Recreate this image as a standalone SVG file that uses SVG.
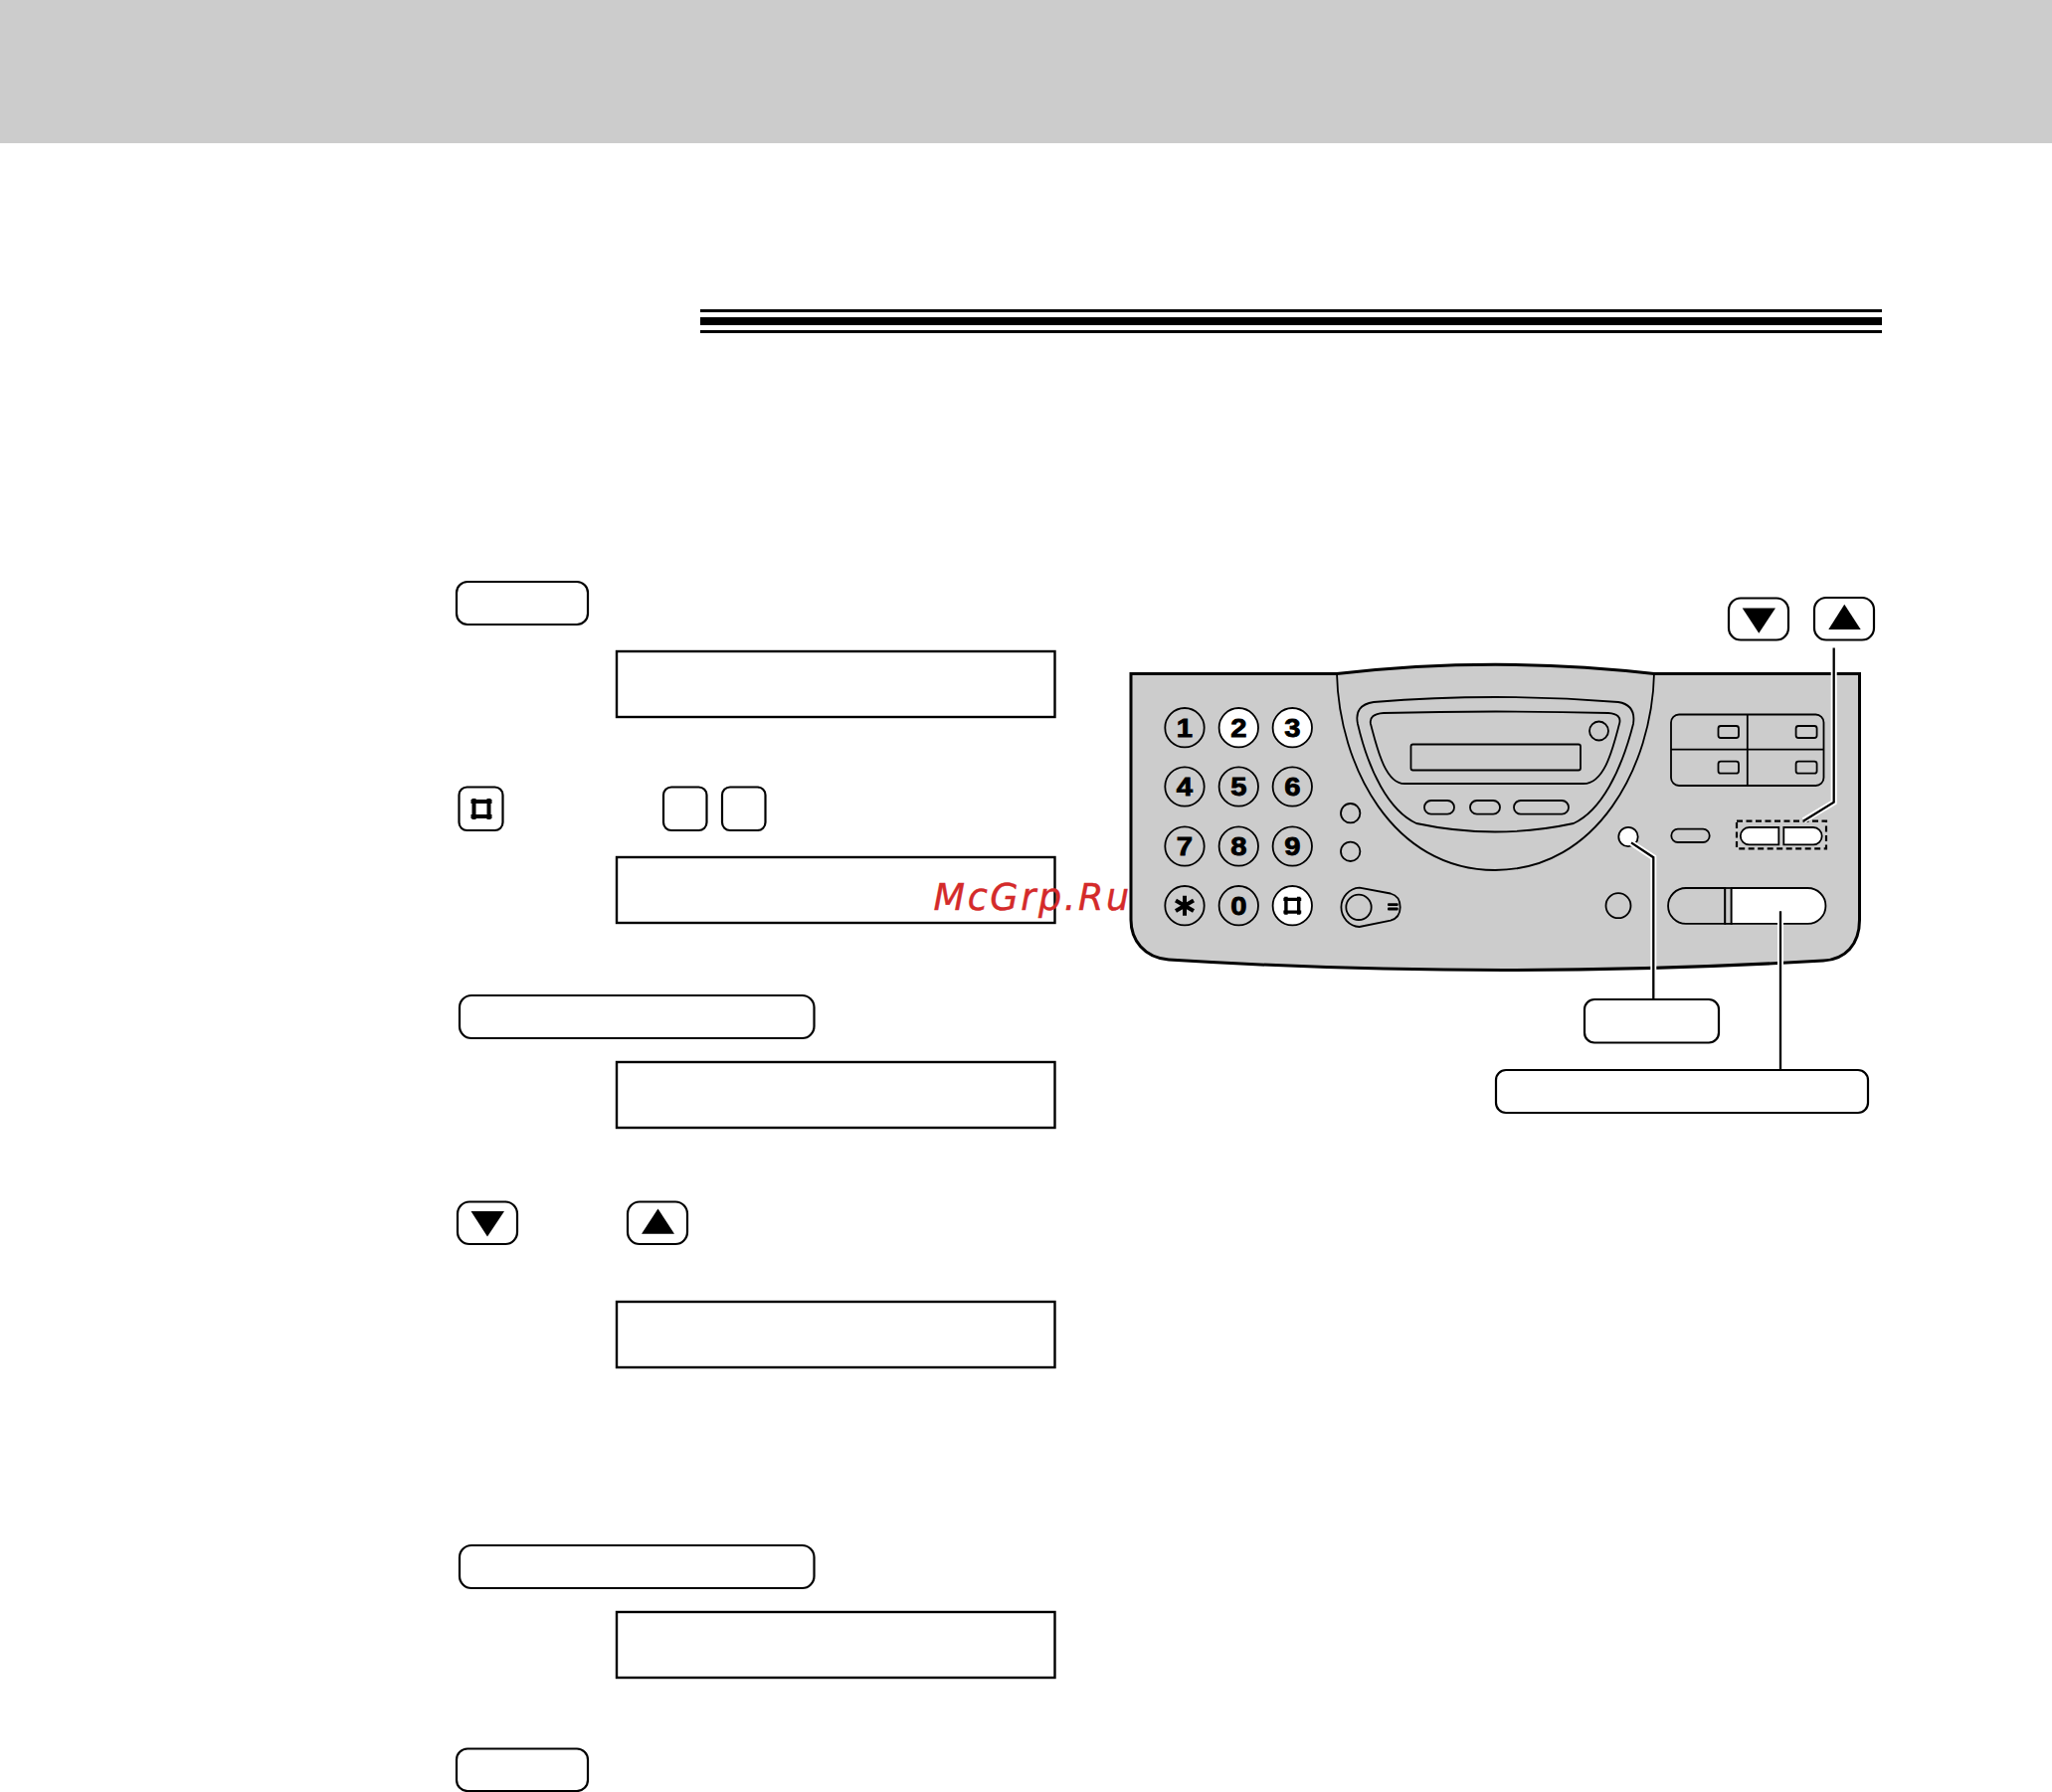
<svg xmlns="http://www.w3.org/2000/svg" width="2063" height="1802" viewBox="0 0 2063 1802">
<defs>
<style>
.key{fill:#fff;stroke:#000;stroke-width:2.2}
.lcd{fill:#fff;stroke:#000;stroke-width:2.4}
.p{fill:#ccc;stroke:#000;stroke-width:1.8}
.w{fill:#fff;stroke:#000;stroke-width:1.8}
.d{font-family:"Liberation Sans",Arial,sans-serif;font-weight:700;font-size:25px;text-anchor:middle;fill:#000;stroke:#000;stroke-width:.8}
.halo{fill:none;stroke:#fff;stroke-width:6}
.ln{fill:none;stroke:#000;stroke-width:2.3}
</style>
<g id="hash"><path d="M-7.5-10.5V10.5M7.5-10.5V10.5M-10.5-7.5H10.5M-10.5 7.5H10.5" fill="none" stroke="#000" stroke-width="4"/></g>
</defs>
<rect id="header" x="0" y="0" width="2063" height="144" fill="#ccc"/>
<g id="rule" fill="#000"><rect x="704" y="311" width="1188" height="3"/><rect x="704" y="319" width="1188" height="8"/><rect x="704" y="332" width="1188" height="3"/></g>
<g id="steps">
<rect id="k1" class="key" x="459" y="585" width="132" height="43" rx="11"/>
<rect id="lcd1" class="lcd" x="620" y="655" width="440.5" height="66"/>
<g id="k2"><rect class="key" x="461.5" y="791.5" width="44" height="43.5" rx="8"/><use href="#hash" transform="translate(484 813.5)"/></g>
<rect id="k3" class="key" x="667" y="791.5" width="43.5" height="43.5" rx="8"/>
<rect id="k4" class="key" x="726" y="791.5" width="43.5" height="43.5" rx="8"/>
<rect id="lcd2" class="lcd" x="620" y="862" width="440.5" height="66"/>
<rect id="k5" class="key" x="462" y="1001" width="356.5" height="43" rx="12"/>
<rect id="lcd3" class="lcd" x="620" y="1068" width="440.5" height="66"/>
<g id="k6"><rect class="key" x="460" y="1208.5" width="60" height="42.5" rx="12"/><polygon points="473.5,1218 507,1218 490,1243.5"/></g>
<g id="k7"><rect class="key" x="631" y="1208.5" width="60" height="42.5" rx="12"/><polygon points="661.5,1215.5 645,1240.7 678,1240.7"/></g>
<rect id="lcd4" class="lcd" x="620" y="1309" width="440.5" height="66"/>
<rect id="k8" class="key" x="462" y="1554" width="356.5" height="43" rx="12"/>
<rect id="lcd5" class="lcd" x="620" y="1621" width="440.5" height="66"/>
<rect id="k9" class="key" x="459" y="1758.5" width="132" height="42.5" rx="11"/>
</g>
<g id="panel">
<path id="body" d="M1137 677.5H1344Q1503 659 1663 677.5H1869.5V925C1869.5 950 1855 965 1833 966Q1503 985.5 1175 965C1150 963 1137 945 1137 925Z" fill="#ccc" stroke="#000" stroke-width="3"/>
<path id="arch" d="M1344 677C1346 770 1400 875 1503 875C1606 875 1661 770 1663 677" fill="none" stroke="#000" stroke-width="1.8"/>
<g id="display">
<path class="p" d="M1381 706Q1503 696 1627 706Q1645 709 1642 728C1630 775 1610 815 1582 828Q1503 845 1424 828C1396 815 1376 775 1365 728Q1361 709 1381 706Z"/>
<path class="p" d="M1391 717Q1503 714 1617 717Q1631 718 1628 728C1622 750 1614 788 1592 788H1412C1392 788 1384 750 1378 728Q1376 718 1391 717Z"/>
<circle class="p" cx="1607.5" cy="735" r="9.5"/>
<rect class="p" x="1418.5" y="748.5" width="170.5" height="26" rx="2"/>
<rect class="p" x="1432" y="805" width="30" height="13.7" rx="6.8"/>
<rect class="p" x="1478" y="805" width="30" height="13.7" rx="6.8"/>
<rect class="p" x="1522" y="805" width="55" height="13.7" rx="6.8"/>
</g>
<g id="keypad">
<g id="d1"><circle class="p" cx="1191" cy="731.7" r="19.7"/><text class="d" transform="translate(1191 740.6) scale(1.17 1)">1</text></g>
<g id="d2"><circle class="w" cx="1245.3" cy="731.7" r="19.7"/><text class="d" transform="translate(1245.3 740.6) scale(1.17 1)">2</text></g>
<g id="d3"><circle class="w" cx="1299.3" cy="731.7" r="19.7"/><text class="d" transform="translate(1299.3 740.6) scale(1.17 1)">3</text></g>
<g id="d4"><circle class="p" cx="1191" cy="791" r="19.7"/><text class="d" transform="translate(1191 799.9) scale(1.17 1)">4</text></g>
<g id="d5"><circle class="p" cx="1245.3" cy="791" r="19.7"/><text class="d" transform="translate(1245.3 799.9) scale(1.17 1)">5</text></g>
<g id="d6"><circle class="p" cx="1299.3" cy="791" r="19.7"/><text class="d" transform="translate(1299.3 799.9) scale(1.17 1)">6</text></g>
<g id="d7"><circle class="p" cx="1191" cy="851" r="19.7"/><text class="d" transform="translate(1191 859.9) scale(1.17 1)">7</text></g>
<g id="d8"><circle class="p" cx="1245.3" cy="851" r="19.7"/><text class="d" transform="translate(1245.3 859.9) scale(1.17 1)">8</text></g>
<g id="d9"><circle class="p" cx="1299.3" cy="851" r="19.7"/><text class="d" transform="translate(1299.3 859.9) scale(1.17 1)">9</text></g>
<g id="dstar"><circle class="p" cx="1191" cy="910.7" r="19.7"/><path d="M1191 900.7V920.7M1182 905.5L1200 915.9M1182 915.9L1200 905.5" fill="none" stroke="#000" stroke-width="4"/></g>
<g id="d0"><circle class="p" cx="1245.3" cy="910.7" r="19.7"/><text class="d" transform="translate(1245.3 919.6) scale(1.17 1)">0</text></g>
<g id="dhash"><circle class="w" cx="1299.3" cy="910.7" r="19.7"/><use href="#hash" transform="translate(1299.3 910.7) scale(.85)"/></g>
</g>
<circle id="led1" class="p" cx="1357.7" cy="817.7" r="9.7"/>
<circle id="led2" class="p" cx="1357.7" cy="856.3" r="9.7"/>
<g id="volume"><path class="p" d="M1366.7 892.7L1398 898.5Q1407.7 901 1407.7 912.3Q1407.7 923 1398 925.7L1366.7 932A19.7 19.7 0 0 1 1366.7 892.7Z"/><circle class="p" cx="1366" cy="912.3" r="12.7"/><rect x="1395" y="908.3" width="10.7" height="2.8" rx="1"/><rect x="1395" y="912.6" width="10.7" height="2.8" rx="1"/></g>
<g id="stations" fill="#ccc" stroke="#000" stroke-width="1.8">
<rect x="1680" y="718.5" width="153.5" height="71.5" rx="8"/><path d="M1756.8 718.5V790M1680 753.7H1833.5" fill="none"/>
<rect x="1727.5" y="730" width="20.5" height="12" rx="2.5"/><rect x="1805.6" y="730" width="21" height="12" rx="2.5"/>
<rect x="1727.5" y="765.7" width="20.5" height="12" rx="2.5"/><rect x="1805.6" y="765.7" width="21" height="12" rx="2.5"/>
</g>
<circle id="stopbtn" class="w" cx="1637" cy="841.5" r="9.7"/>
<rect id="pill" class="p" x="1680.3" y="833.7" width="38.4" height="13.3" rx="6.6"/>
<g id="arrows"><rect x="1746" y="825.6" width="90" height="27.7" fill="none" stroke="#000" stroke-width="2.2" stroke-dasharray="6 3.5"/>
<path class="w" d="M1788.3 832H1758.5a8.7 8.7 0 0 0 0 17.4H1788.3Z"/><path class="w" d="M1793.3 832H1823a8.7 8.7 0 0 1 0 17.4H1793.3Z"/></g>
<circle id="setbtn" class="p" cx="1627" cy="910.7" r="12.5"/>
<g id="start"><path class="p" d="M1734.3 893H1695a17.9 17.9 0 0 0 0 35.9H1734.3Z"/><rect x="1734.3" y="893" width="6.4" height="35.9" class="p"/><path class="w" d="M1740.7 893H1817.5a17.9 17.9 0 0 1 0 35.9H1740.7Z"/></g>
</g>
<g id="tops">
<g id="top-down"><rect class="key" x="1738" y="601.5" width="60" height="42" rx="12"/><polygon points="1751.7,611.5 1785,611.5 1768.3,636.7"/></g>
<g id="top-up"><rect class="key" x="1824" y="601" width="60" height="42.5" rx="12"/><polygon points="1854.3,607.8 1838.3,633 1870.7,633"/></g>
<rect id="top-stop" class="key" x="1593" y="1005" width="135" height="43.5" rx="10"/>
<rect id="top-wide" class="key" x="1504" y="1076" width="374" height="43" rx="10"/>
</g>
<g id="connectors">
<path class="halo" d="M1843.7 655V806.7L1813.3 825M1640 847.4L1662.3 862.2V1004M1790 916.3V1075"/>
<path class="ln" d="M1843.7 651.5V806.7L1813.3 825.6M1640 847.4L1662.3 862.2V1005M1790 916.3V1076.3"/>
</g>
<text id="watermark" x="938.5" y="915" font-family="'DejaVu Sans',sans-serif" font-style="italic" font-size="36.6" letter-spacing="2.6" fill="#d42a2a" stroke="#d42a2a" stroke-width=".4">McGrp.Ru</text>
</svg>
